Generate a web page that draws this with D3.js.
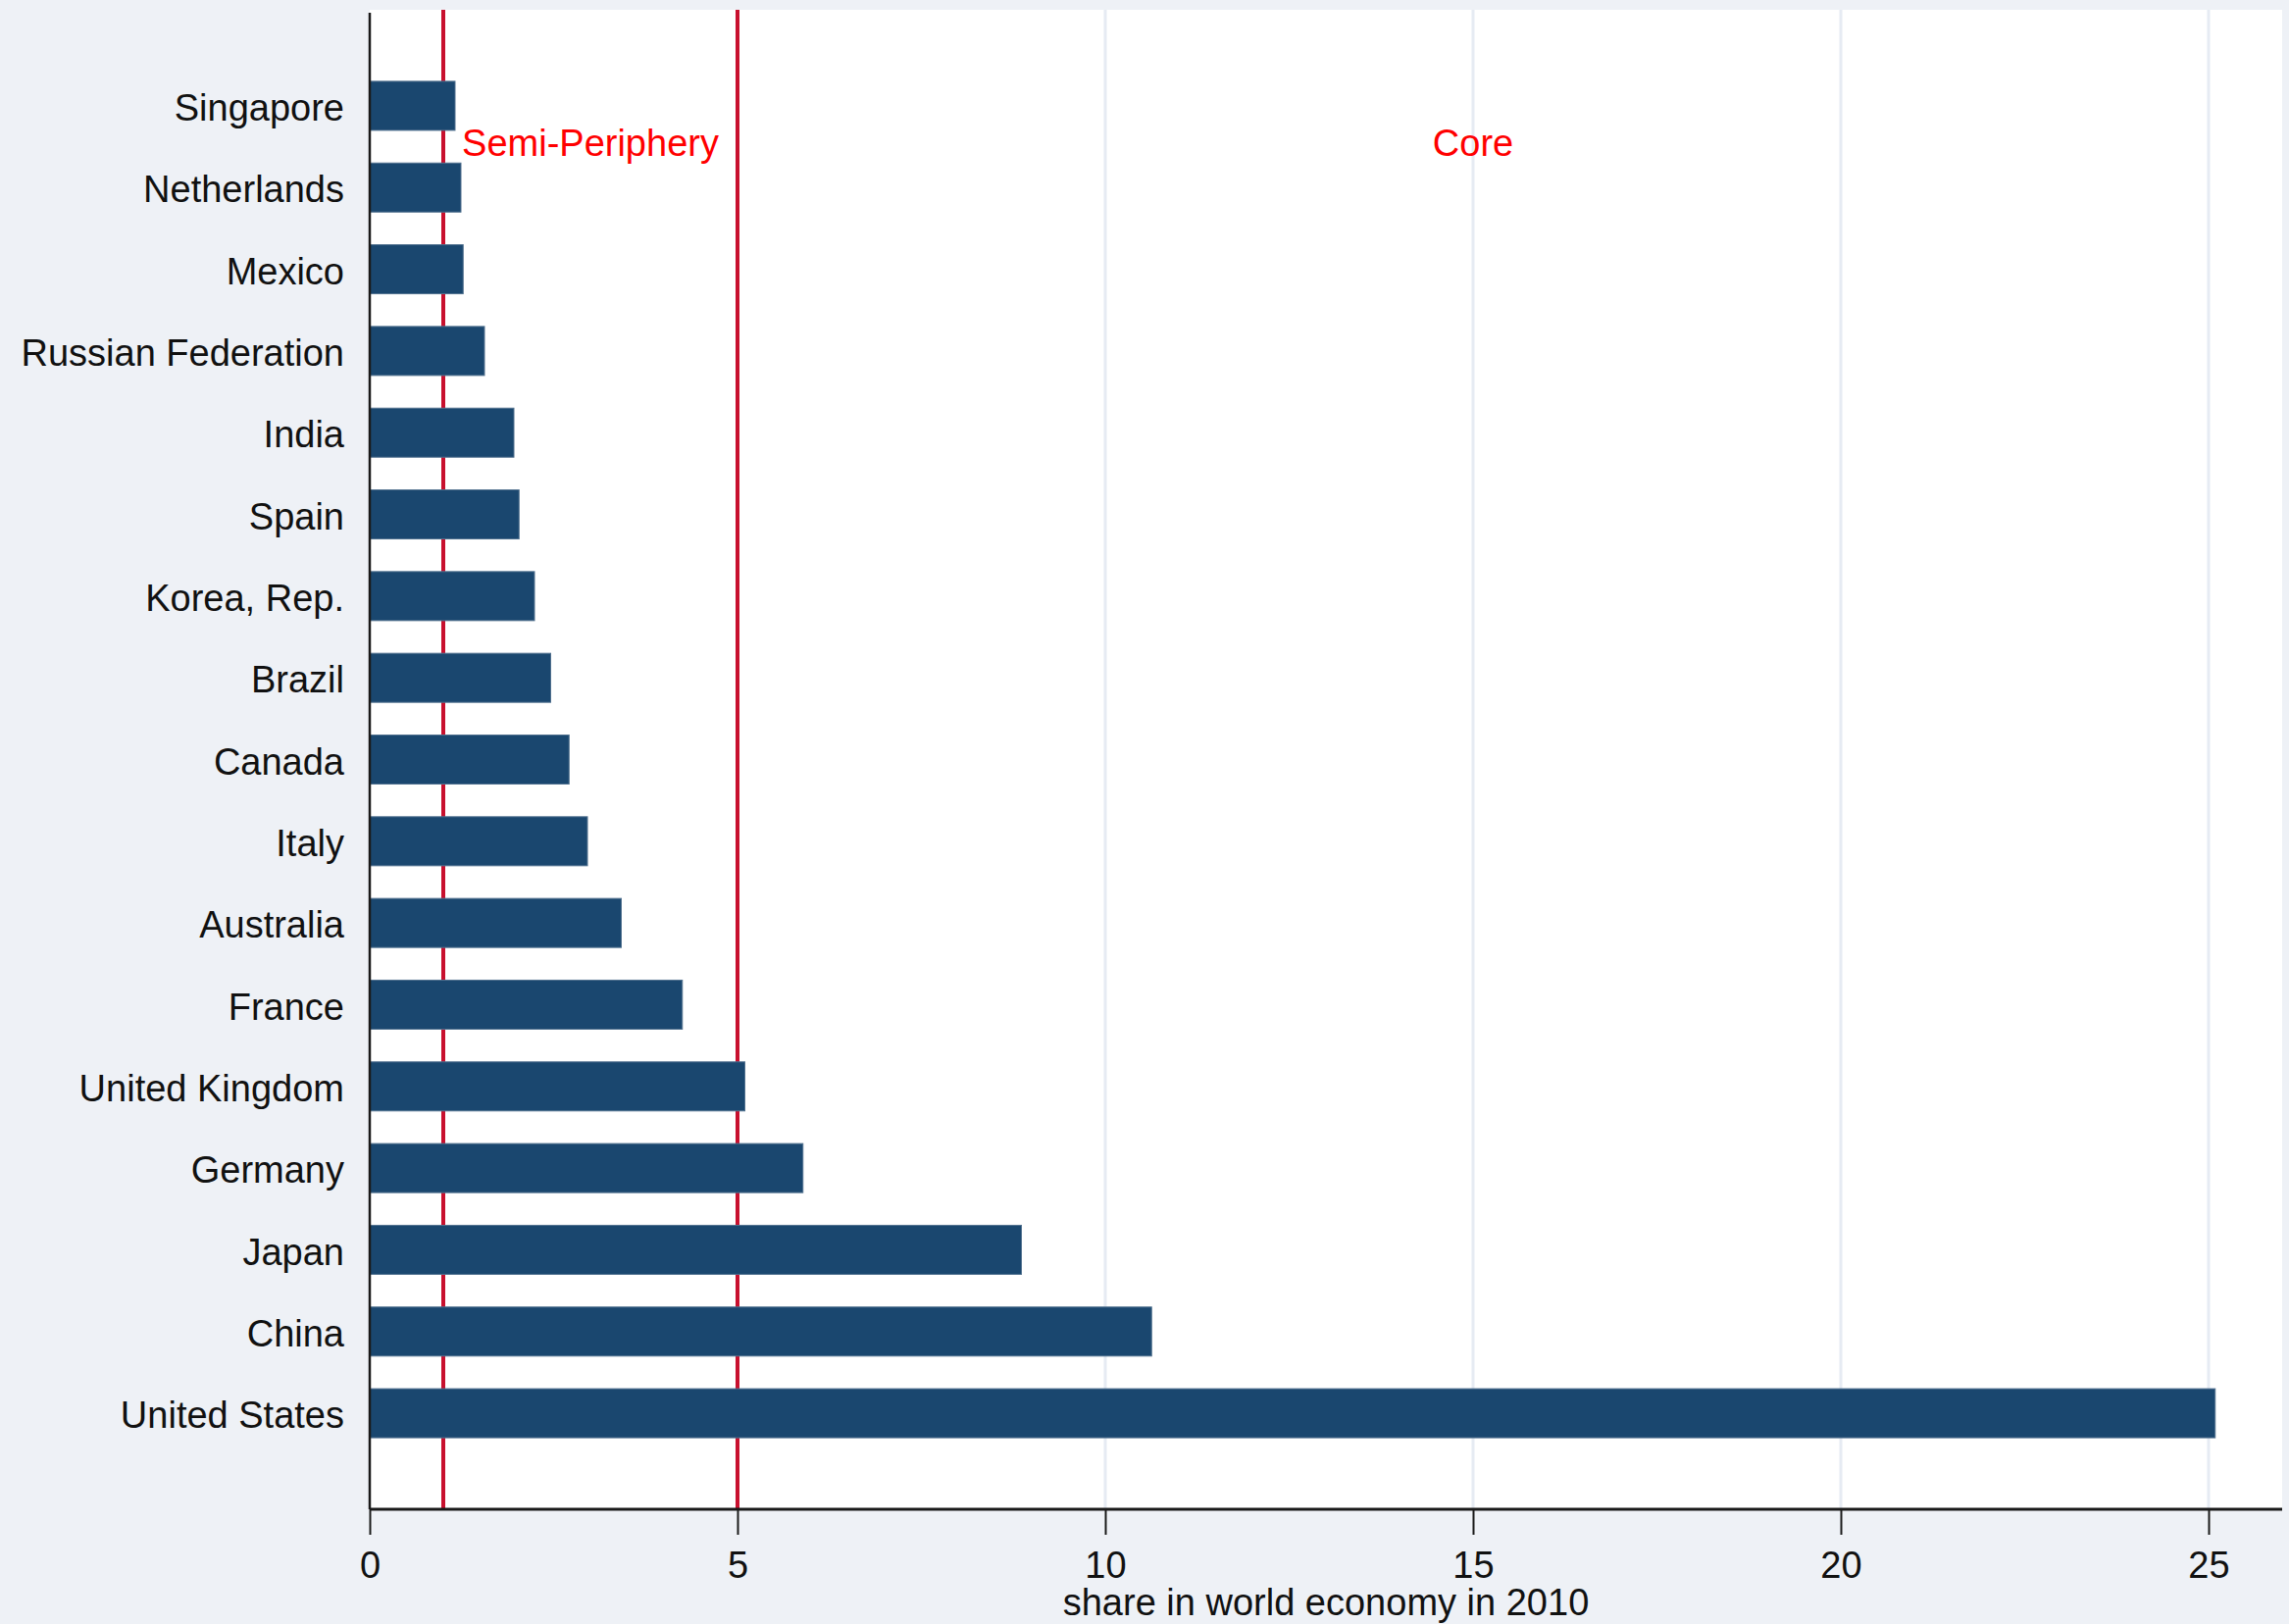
<!DOCTYPE html>
<html>
<head>
<meta charset="utf-8">
<script src="https://cdn.jsdelivr.net/npm/d3@7"></script>
<style>
  html, body { margin: 0; padding: 0; background: #eef1f6; }
  svg { display: block; }
  text { font-family: "Liberation Sans", Arial, sans-serif; }
</style>
</head>
<body>
<svg id="chart" width="2334" height="1656"></svg>
<script>
// Country shares of world GDP, 2010 (percent)
const countries = [
  "Singapore", "Netherlands", "Mexico", "Russian Federation", "India", "Spain",
  "Korea, Rep.", "Brazil", "Canada", "Italy", "Australia", "France",
  "United Kingdom", "Germany", "Japan", "China", "United States"
];
const shares = [
  1.16, 1.24, 1.27, 1.56, 1.96, 2.03,
  2.24, 2.46, 2.71, 2.96, 3.42, 4.25,
  5.10, 5.89, 8.86, 10.63, 25.09
];
const xTicks = [0, 5, 10, 15, 20, 25];
// Threshold lines separating the zones
const thresholds = [1, 5];
const zoneLabels = ["Semi-Periphery", "Core"];
const zoneLabelX = [3, 15];
const axisTitle = "share in world economy in 2010";

const W = 2334, H = 1656;
const plot = { left: 377, right: 2327, top: 10, bottom: 1539 };

const svg = d3.select("#chart");

svg.append("rect").attr("x", 0).attr("y", 0).attr("width", W).attr("height", H)
  .attr("fill", "#eef1f6");
svg.append("rect")
  .attr("x", plot.left).attr("y", plot.top)
  .attr("width", plot.right - plot.left).attr("height", plot.bottom - plot.top)
  .attr("fill", "#ffffff");

const x = d3.scaleLinear().domain([0, 26]).range([plot.left, plot.right]);
const y = d3.scaleBand().domain(countries).range([plot.top, plot.bottom])
  .paddingInner(0.4).paddingOuter(0.875);

// vertical gridlines
svg.append("g").selectAll("line")
  .data(xTicks.filter(t => t > 0))
  .join("line")
  .attr("x1", d => x(d)).attr("x2", d => x(d))
  .attr("y1", plot.top).attr("y2", plot.bottom)
  .attr("stroke", "#e6ebf3").attr("stroke-width", 3);

// threshold lines
svg.append("g").selectAll("line")
  .data(thresholds)
  .join("line")
  .attr("x1", d => x(d)).attr("x2", d => x(d))
  .attr("y1", plot.top).attr("y2", plot.bottom)
  .attr("stroke", "#c8102e").attr("stroke-width", 4);

// bars
const data = countries.map((c, i) => ({ country: c, value: shares[i] }));
svg.append("g").selectAll("rect")
  .data(data)
  .join("rect")
  .attr("x", x(0))
  .attr("y", d => y(d.country))
  .attr("width", d => x(d.value) - x(0))
  .attr("height", y.bandwidth())
  .attr("fill", "#1a476f")
  .attr("stroke", "#50708e").attr("stroke-width", 1);

// zone labels
svg.append("g").selectAll("text")
  .data(zoneLabels)
  .join("text")
  .attr("x", (d, i) => x(zoneLabelX[i]))
  .attr("y", y(countries[0]) + y.step() * 0.72 + 3)
  .attr("text-anchor", "middle")
  .attr("dominant-baseline", "central")
  .attr("font-size", 38)
  .attr("fill", "#ff0000")
  .text(d => d);

// category axis
const yAxis = svg.append("g")
  .attr("transform", `translate(${plot.left},3)`)
  .call(d3.axisLeft(y).tickSize(0).tickPadding(26));
yAxis.select(".domain").remove();
yAxis.selectAll("text")
  .attr("font-size", 38).attr("fill", "#111111")
  .attr("font-family", "Liberation Sans, Arial, sans-serif");
svg.append("line")
  .attr("x1", plot.left).attr("x2", plot.left)
  .attr("y1", plot.top + 3).attr("y2", plot.bottom)
  .attr("stroke", "#1a1a1a").attr("stroke-width", 2.5);

// value axis
const xAxis = svg.append("g")
  .attr("transform", `translate(0,${plot.bottom})`)
  .call(d3.axisBottom(x).tickValues(xTicks).tickSize(26).tickPadding(17).tickSizeOuter(0));
xAxis.select(".domain").remove();
xAxis.selectAll(".tick line").attr("stroke", "#1a1a1a").attr("stroke-width", 2);
xAxis.selectAll("text")
  .attr("font-size", 38).attr("fill", "#111111")
  .attr("font-family", "Liberation Sans, Arial, sans-serif");
svg.append("line")
  .attr("x1", plot.left).attr("x2", plot.right)
  .attr("y1", plot.bottom).attr("y2", plot.bottom)
  .attr("stroke", "#1a1a1a").attr("stroke-width", 3);

// axis title
svg.append("text")
  .attr("x", (plot.left + plot.right) / 2)
  .attr("y", 1647)
  .attr("text-anchor", "middle")
  .attr("font-size", 38).attr("fill", "#111111")
  .text(axisTitle);
</script>
</body>
</html>
